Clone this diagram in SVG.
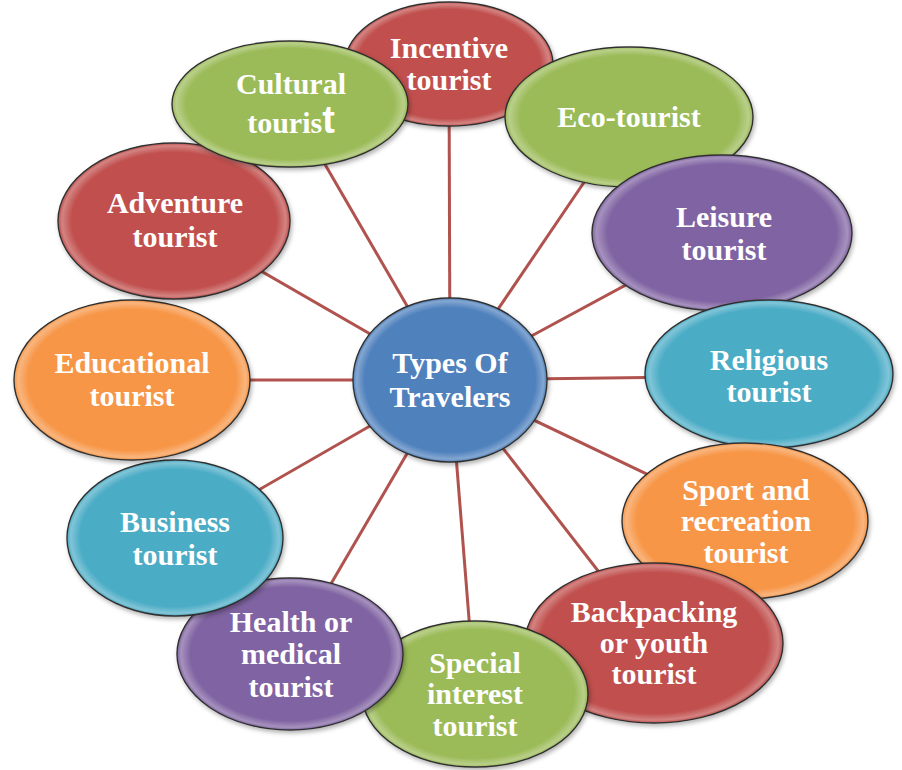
<svg xmlns="http://www.w3.org/2000/svg" width="902" height="770" viewBox="0 0 902 770">
<defs>
<radialGradient id="rim" cx="0.5" cy="0.5" r="0.5">
<stop offset="0.88" stop-color="#ffffff" stop-opacity="0"/>
<stop offset="0.965" stop-color="#ffffff" stop-opacity="0.3"/>
<stop offset="1" stop-color="#ffffff" stop-opacity="0"/>
</radialGradient>
<filter id="sh" x="-10%" y="-10%" width="125%" height="130%">
<feDropShadow dx="1.5" dy="2.5" stdDeviation="2" flood-color="#000" flood-opacity="0.3"/>
</filter>
</defs>
<style>
.n{stroke:#2e2e2e;stroke-width:1.4;filter:url(#sh)}
.rim{fill:url(#rim);stroke:none}
.red{fill:#c0504d}
.green{fill:#9bbb59}
.purple{fill:#8064a2}
.teal{fill:#4bacc6}
.orange{fill:#f79646}
.blue{fill:#4f81bd}
text{font-family:"Liberation Serif","Times New Roman",serif;font-weight:bold;font-size:30px;fill:#ffffff;text-anchor:middle}
.big{font-family:"Liberation Sans",Arial,sans-serif;font-size:38px}
#connectors line{stroke:#b0524e;stroke-width:3}
</style>
<rect width="902" height="770" fill="#ffffff"/>
<g id="connectors">
<line x1="450" y1="380" x2="449" y2="64"/>
<line x1="450" y1="380" x2="629" y2="116"/>
<line x1="450" y1="380" x2="722" y2="233"/>
<line x1="450" y1="380" x2="769" y2="376"/>
<line x1="450" y1="380" x2="745" y2="521"/>
<line x1="450" y1="380" x2="654" y2="643"/>
<line x1="450" y1="380" x2="475" y2="694"/>
<line x1="450" y1="380" x2="290" y2="654"/>
<line x1="450" y1="380" x2="175" y2="538"/>
<line x1="450" y1="380" x2="132" y2="380"/>
<line x1="450" y1="380" x2="174" y2="221"/>
<line x1="450" y1="380" x2="290" y2="104"/>
</g>
<g id="incentive">
<ellipse class="n red" cx="449" cy="64" rx="104" ry="62"/>
<ellipse class="rim" cx="449" cy="64" rx="104" ry="62"/>
<text x="449" y="58">Incentive</text>
<text x="449" y="90">tourist</text>
</g>
<g id="eco">
<ellipse class="n green" cx="629" cy="117" rx="124" ry="70"/>
<ellipse class="rim" cx="629" cy="117" rx="124" ry="70"/>
<text x="629" y="127">Eco-tourist</text>
</g>
<g id="leisure">
<ellipse class="n purple" cx="722" cy="233" rx="130" ry="78"/>
<ellipse class="rim" cx="722" cy="233" rx="130" ry="78"/>
<text x="724" y="227">Leisure</text>
<text x="724" y="260">tourist</text>
</g>
<g id="religious">
<ellipse class="n teal" cx="769" cy="374" rx="124" ry="74"/>
<ellipse class="rim" cx="769" cy="374" rx="124" ry="74"/>
<text x="769" y="370">Religious</text>
<text x="769" y="402">tourist</text>
</g>
<g id="sport">
<ellipse class="n orange" cx="745" cy="521" rx="123" ry="78"/>
<ellipse class="rim" cx="745" cy="521" rx="123" ry="78"/>
<text x="746" y="500">Sport and</text>
<text x="746" y="531">recreation</text>
<text x="746" y="563">tourist</text>
</g>
<g id="backpacking">
<ellipse class="n red" cx="654" cy="643" rx="129" ry="80"/>
<ellipse class="rim" cx="654" cy="643" rx="129" ry="80"/>
<text x="654" y="622">Backpacking</text>
<text x="654" y="653">or youth</text>
<text x="654" y="684">tourist</text>
</g>
<g id="special">
<ellipse class="n green" cx="475" cy="694" rx="113" ry="73"/>
<ellipse class="rim" cx="475" cy="694" rx="113" ry="73"/>
<text x="475" y="673">Special</text>
<text x="475" y="704">interest</text>
<text x="475" y="736">tourist</text>
</g>
<g id="health">
<ellipse class="n purple" cx="290" cy="654" rx="113" ry="76"/>
<ellipse class="rim" cx="290" cy="654" rx="113" ry="76"/>
<text x="291" y="632">Health or</text>
<text x="291" y="664">medical</text>
<text x="291" y="697">tourist</text>
</g>
<g id="business">
<ellipse class="n teal" cx="175" cy="538" rx="108" ry="78"/>
<ellipse class="rim" cx="175" cy="538" rx="108" ry="78"/>
<text x="175" y="532">Business</text>
<text x="175" y="565">tourist</text>
</g>
<g id="educational">
<ellipse class="n orange" cx="132" cy="380" rx="118" ry="80"/>
<ellipse class="rim" cx="132" cy="380" rx="118" ry="80"/>
<text x="132" y="373">Educational</text>
<text x="132" y="406">tourist</text>
</g>
<g id="adventure">
<ellipse class="n red" cx="174" cy="221" rx="116" ry="78"/>
<ellipse class="rim" cx="174" cy="221" rx="116" ry="78"/>
<text x="175" y="213">Adventure</text>
<text x="175" y="247">tourist</text>
</g>
<g id="cultural">
<ellipse class="n green" cx="290" cy="104" rx="118" ry="63"/>
<ellipse class="rim" cx="290" cy="104" rx="118" ry="63"/>
<text x="291" y="94">Cultural</text>
<text x="291" y="133">touris<tspan class="big">t</tspan></text>
</g>
<g id="center">
<ellipse class="n blue" cx="450" cy="380" rx="97" ry="82"/>
<ellipse class="rim" cx="450" cy="380" rx="97" ry="82"/>
<text x="450" y="373">Types Of</text>
<text x="450" y="407">Travelers</text>
</g>
</svg>
